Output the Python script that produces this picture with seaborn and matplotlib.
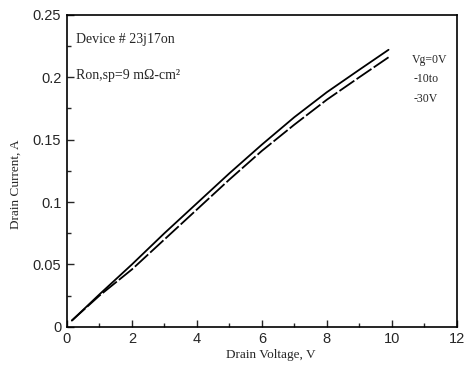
import numpy as np
import pandas as pd
import matplotlib
matplotlib.use("Agg")
import matplotlib.pyplot as plt
import seaborn as sns
from matplotlib.ticker import MultipleLocator

# Data
drain_voltage = [0.15, 1, 2, 3, 4, 5, 6, 7, 8, 9, 9.9]
current_vg0 = [0.005, 0.026, 0.050, 0.075, 0.099, 0.123, 0.146, 0.168, 0.188, 0.206, 0.222]
current_vg10_30 = [0.005, 0.025, 0.046, 0.070, 0.094, 0.118, 0.141, 0.162, 0.182, 0.200, 0.216]
series_names = ["Vg=0V", "Vg=-10 to -30V"]

df = pd.DataFrame({
    "V": drain_voltage * 2,
    "I": current_vg0 + current_vg10_30,
    "series": [series_names[0]] * len(drain_voltage) + [series_names[1]] * len(drain_voltage),
})

sns.set_style("ticks")
plt.rcParams["font.family"] = ["Liberation Sans", "DejaVu Sans"]

fig = plt.figure(figsize=(4.68, 3.71), dpi=100)
ax = fig.add_axes([0.143, 0.119, 0.833, 0.841])

sns.lineplot(data=df, x="V", y="I", hue="series", style="series",
             palette=["black", "black"],
             dashes={series_names[0]: "", series_names[1]: (10, 1.5)},
             linewidth=1.3, legend=False, ax=ax)

ax.set_xlim(0, 12)
ax.set_ylim(0, 0.25)
ax.xaxis.set_minor_locator(MultipleLocator(1))
ax.yaxis.set_minor_locator(MultipleLocator(0.025))
ax.set_xticks([0, 2, 4, 6, 8, 10, 12])
ax.set_xticklabels(["0", "2", "4", "6", "8", "10", "12"])
ax.set_yticks([0, 0.05, 0.1, 0.15, 0.2, 0.25])
ax.set_yticklabels(["0", "0.05", "0.1", "0.15", "0.2", "0.25"])
ax.tick_params(which="major", direction="in", length=5, width=1, labelsize=10.5, pad=4)
ax.tick_params(which="minor", direction="in", length=3, width=1)
ax.tick_params(top=False, right=False, which="both")
for s in ax.spines.values():
    s.set_linewidth(1.2)
    s.set_color("black")

serif = ["Liberation Serif", "DejaVu Serif"]
ax.set_xlabel("Drain Voltage, V", family=serif, fontsize=9.5, labelpad=2)
ax.set_ylabel("Drain Current, A", family=serif, fontsize=9.5, labelpad=4)
ax.xaxis.set_label_coords(0.523, -0.072)
ax.yaxis.set_label_coords(-0.115, 0.458)

ax.text(0.022, 0.92, "Device # 23j17on", transform=ax.transAxes, family=serif,
        fontsize=10, va="center", ha="left")
ax.text(0.022, 0.805, "Ron,sp=9 m\u03a9-cm\u00b2", transform=ax.transAxes, family=serif,
        fontsize=10, va="center", ha="left")
ax.text(0.885, 0.855, "Vg=0V", transform=ax.transAxes, family=serif,
        fontsize=8.5, va="center", ha="left")
ax.text(0.89, 0.795, "-10to", transform=ax.transAxes, family=serif,
        fontsize=8.5, va="center", ha="left")
ax.text(0.89, 0.73, "-30V", transform=ax.transAxes, family=serif,
        fontsize=8.5, va="center", ha="left")

fig.savefig("out.png", dpi=100)
